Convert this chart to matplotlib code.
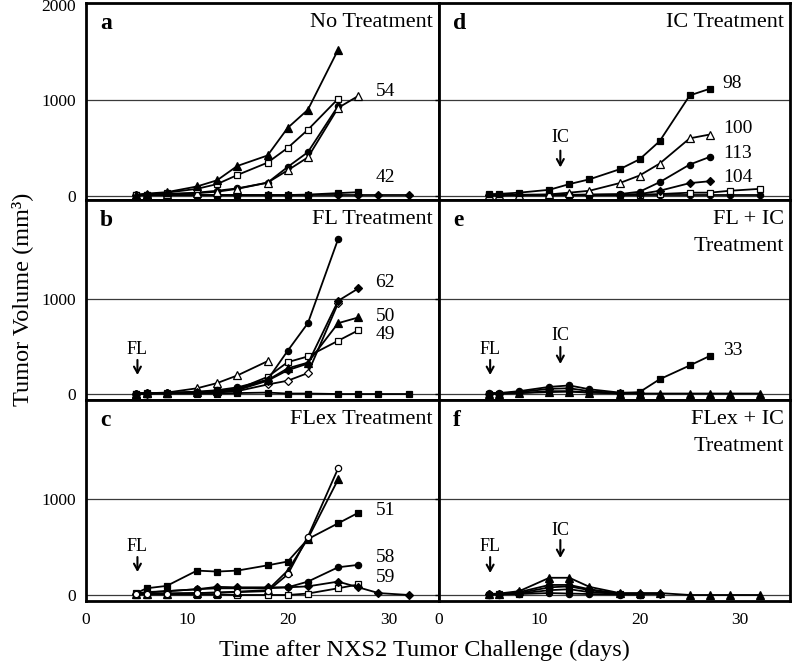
import numpy as np
import matplotlib
matplotlib.use("Agg")
import matplotlib.pyplot as plt

plt.rcParams['font.family'] = ['Liberation Serif', 'DejaVu Serif']

# days after tumor challenge
days = [5, 6, 8, 11, 13, 15, 18, 20, 22, 25, 27, 29, 32]
N = None

# a: no treatment
a_tri = [10, 20, 35, 95, 160, 310, 420, 710, 900, 1530, N, N, N]
a_sqo = [5, 10, 30, 70, 120, 215, 345, 500, 690, 1015, N, N, N]
a_trio = [5, 8, 15, 25, 40, 70, 135, 265, 400, 920, 1045, N, N]
a_circ = [5, 8, 15, 30, 50, 75, 135, 300, 455, 940, N, N, N]
a_sq = [5, 5, 5, 5, 5, 5, 5, 5, 10, 25, 35, N, N]
a_dia = [5, 5, 5, 5, 5, 5, 5, 5, 5, 5, 5, 5, 5]

# b: FL treatment
b_circ = [5, 8, 12, 25, 40, 70, 150, 455, 745, 1630, N, N, N]
b_dia = [5, 8, 10, 15, 25, 40, 140, 250, 320, 980, 1110, N, N]
b_tri = [5, 8, 12, 20, 30, 55, 145, 270, 330, 745, 805, N, N]
b_sqo = [5, 8, 10, 15, 30, 50, 180, 335, 395, 560, 670, N, N]
b_diao = [5, 5, 8, 10, 15, 30, 100, 140, 220, 955, N, N, N]
b_trio = [5, 8, 15, 60, 115, 195, 345, N, N, N, N, N, N]
b_sq = [5, 5, 5, 5, 5, 10, 15, 5, 5, 0, 0, 0, 0]

# c: FLex treatment
c_circo = [10, 12, 15, 20, 25, 30, 40, 215, 610, 1325, N, N, N]
c_tri = [10, 12, 15, 20, 25, 35, 50, 255, 590, 1210, N, N, N]
c_sq = [20, 70, 95, 255, 245, 255, 310, 350, 585, 750, 860, N, N]
c_circ = [15, 30, 40, 60, 70, 70, 70, 80, 140, 290, 315, N, N]
c_dia = [15, 25, 40, 60, 85, 80, 80, 80, 90, 140, 80, 20, 0]
c_sqo = [5, 5, 5, 5, 5, 0, 0, 0, 15, 70, 110, N, N]

# d: IC treatment
d_sq = [15, 17, 30, 60, 120, 170, 275, 380, 570, 1050, 1120, N, N]
d_trio = [5, 5, 8, 12, 30, 50, 130, 210, 335, 600, 640, N, N]
d_circ = [3, 3, 5, 5, 8, 10, 15, 40, 140, 325, 405, N, N]
d_dia = [3, 3, 5, 5, 5, 8, 10, 15, 50, 130, 150, N, N]
d_sqo = [2, 2, 3, 3, 5, 5, 5, 10, 15, 30, 30, 50, 70]
d_low = [2, 2, 2, 2, 2, 2, 2, 2, 2, 2, 2, 2, 2]

# e: FL + IC treatment
e_sq = [5, 5, 10, 30, 30, 15, 10, 20, 155, 300, 400, N, N]
e_circ = [10, 10, 30, 75, 90, 50, 15, 10, N, N, N, N, N]
e_dia = [5, 5, 20, 55, 60, 30, 10, 10, N, N, N, N, N]
e_tri = [5, 5, 10, 20, 25, 15, 5, 5, 5, 5, 5, 5, 5]

# f: FLex + IC treatment
f_tri = [10, 15, 40, 180, 180, 85, 20, 20, 20, 0, 0, 0, 0]
f_circ = [10, 10, 30, 105, 105, 60, 15, 15, 15, N, N, N, N]
f_dia = [10, 10, 20, 80, 90, 50, 10, 10, 10, N, N, N, N]
f_sq = [5, 10, 15, 50, 60, 30, 10, 5, N, N, N, N, N]
f_circ2 = [5, 5, 10, 20, 15, 10, 5, 5, N, N, N, N, N]

a_labels = [("54", 1093), ("42", 190)]
b_labels = [("62", 1169), ("50", 811), ("49", 621)]
c_labels = [("51", 888), ("58", 397), ("59", 188)]
d_labels = [("98", 1176), ("100", 700), ("113", 440), ("104", 192)]
e_labels = [("33", 456)]

# marker style: (marker, filled, size)
sty = {
    "tri": ("^", True, 5.5), "trio": ("^", False, 5.5),
    "sq": ("s", True, 4.5), "sqo": ("s", False, 4.5),
    "circ": ("o", True, 4.5), "circo": ("o", False, 4.5),
    "dia": ("D", True, 4), "diao": ("D", False, 4),
}


def series(ax, vals, kind):
    m, filled, ms = sty[kind]
    y = np.array([np.nan if v is None else v for v in vals], float)
    ax.plot(days, y, color="black", lw=1.3, marker=m, ms=ms,
            mfc="black" if filled else "white", mec="black", mew=0.9,
            zorder=3)


fig = plt.figure(figsize=(7.99, 6.65), dpi=100)
W, H = 799, 665
rows = [(3, 200, -47, 2020), (200, 400, -63, 2040), (400, 601, -63, 2040)]
cols = [(86, 439), (439, 790)]


def make_ax(r, c):
    top, bot, y0, y1 = rows[r]
    l, rgt = cols[c]
    ax = fig.add_axes([l / W, 1 - bot / H, (rgt - l) / W, (bot - top) / H])
    ax.set_xlim(0, 35)
    ax.set_ylim(y0, y1)
    for s in ax.spines.values():
        s.set_linewidth(2)
    for yv in (0, 1000):
        ax.axhline(yv, color="#3a3a3a", lw=0.9, zorder=1)
    if c == 0:
        ax.set_yticks([0, 1000, 2000] if r == 0 else [0, 1000])
        ax.tick_params(axis="y", length=0, pad=7, labelsize=12.5)
    else:
        ax.set_yticks([0, 1000])
        ax.tick_params(axis="y", length=3, width=1, labelleft=False)
    if r == 2:
        ax.set_xticks([0, 10, 20, 30])
        ax.tick_params(axis="x", length=0, pad=8, labelsize=12.5)
    else:
        ax.set_xticks([])
    return ax


def heading(ax, letter, lines):
    ax.annotate(letter, xy=(0, 1), xycoords="axes fraction", xytext=(10, -19),
                textcoords="offset points", fontsize=17, fontweight="bold",
                ha="left", va="baseline")
    for i, t in enumerate(lines):
        ax.annotate(t, xy=(1, 1), xycoords="axes fraction",
                    xytext=(-4.5, -17 - 20 * i), textcoords="offset points",
                    fontsize=16, ha="right", va="baseline")


def marker_text(ax, text, x, y, tip, tail):
    ax.text(x, y, text, fontsize=13, ha="center", va="center")
    ax.annotate("", xy=(x, tip), xytext=(x, tail),
                arrowprops=dict(arrowstyle="->,head_length=0.45,head_width=0.25",
                                lw=1.5, color="black", shrinkA=0, shrinkB=0))


def end_labels(ax, labels, x):
    for t, y in labels:
        ax.text(x, y, t, fontsize=14, ha="left", va="center")


axa = make_ax(0, 0)
for v, k in [(a_dia, "dia"), (a_sq, "sq"), (a_circ, "circ"), (a_trio, "trio"),
             (a_sqo, "sqo"), (a_tri, "tri")]:
    series(axa, v, k)
heading(axa, "a", ["No Treatment"])
end_labels(axa, a_labels, 28.7)

axb = make_ax(1, 0)
for v, k in [(b_sq, "sq"), (b_trio, "trio"), (b_diao, "diao"), (b_sqo, "sqo"),
             (b_tri, "tri"), (b_dia, "dia"), (b_circ, "circ")]:
    series(axb, v, k)
heading(axb, "b", ["FL Treatment"])
end_labels(axb, b_labels, 28.7)
marker_text(axb, "FL", 5.1, 463, 200, 358)

axc = make_ax(2, 0)
for v, k in [(c_sqo, "sqo"), (c_dia, "dia"), (c_circ, "circ"), (c_sq, "sq"),
             (c_tri, "tri"), (c_circo, "circo")]:
    series(axc, v, k)
heading(axc, "c", ["FLex Treatment"])
end_labels(axc, c_labels, 28.7)
marker_text(axc, "FL", 5.1, 505, 240, 397)

axd = make_ax(0, 1)
for v, k in [(d_low, "circ"), (d_sqo, "sqo"), (d_dia, "dia"), (d_circ, "circ"),
             (d_trio, "trio"), (d_sq, "sq")]:
    series(axd, v, k)
heading(axd, "d", ["IC Treatment"])
end_labels(axd, d_labels, 28.3)
marker_text(axd, "IC", 12.1, 606, 295, 471)

axe = make_ax(1, 1)
for v, k in [(e_tri, "tri"), (e_dia, "dia"), (e_circ, "circ"), (e_sq, "sq")]:
    series(axe, v, k)
heading(axe, "e", ["FL + IC", "Treatment"])
end_labels(axe, e_labels, 28.3)
marker_text(axe, "FL", 5.1, 463, 200, 358)
marker_text(axe, "IC", 12.1, 610, 316, 495)

axf = make_ax(2, 1)
for v, k in [(f_circ2, "circ"), (f_sq, "sq"), (f_dia, "dia"), (f_circ, "circ"),
             (f_tri, "tri")]:
    series(axf, v, k)
heading(axf, "f", ["FLex + IC", "Treatment"])
marker_text(axf, "FL", 5.1, 505, 230, 397)
marker_text(axf, "IC", 12.1, 679, 387, 575)

fig.text(424 / W, 1 - 650 / H, "Time after NXS2 Tumor Challenge (days)",
         fontsize=17.5, ha="center", va="center")
fig.text(22 / W, 1 - 299 / H, "Tumor Volume (mm³)", fontsize=17.5,
         rotation=90, ha="center", va="center")

fig.savefig("out.png", dpi=100)
